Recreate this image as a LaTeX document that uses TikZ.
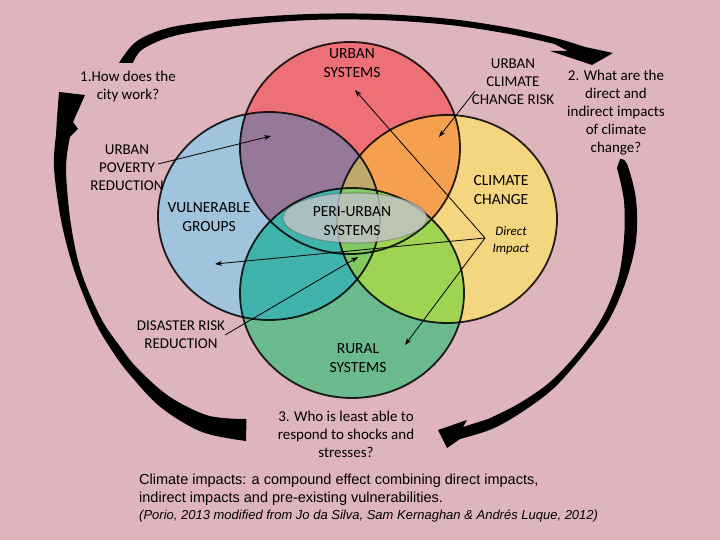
\documentclass[tikz,border=0pt]{standalone}
\usepackage{fontspec}
\setmainfont{Carlito}
\newfontfamily\arialf{Liberation Sans}
\usetikzlibrary{arrows.meta}
\definecolor{bgpink}{RGB}{223,181,189}
\definecolor{cred}{RGB}{236,112,118}
\definecolor{cblue}{RGB}{160,196,222}
\definecolor{cyellow}{RGB}{244,214,128}
\definecolor{cgreen}{RGB}{106,186,142}
\definecolor{cpurple}{RGB}{150,120,152}
\definecolor{corange}{RGB}{244,160,78}
\definecolor{cteal}{RGB}{64,180,172}
\definecolor{clime}{RGB}{158,212,82}
\definecolor{ckhaki}{RGB}{190,168,110}
\definecolor{cbgy}{RGB}{130,200,100}
\definecolor{cby}{RGB}{190,200,120}
\definecolor{crg}{RGB}{170,150,110}
\definecolor{cperi}{RGB}{194,194,198}
\tikzset{
  lbl/.style={align=center, inner sep=0pt, font=\fontsize{15}{18}\selectfont},
  biglbl/.style={align=center, inner sep=0pt, font=\fontsize{15.5}{19}\selectfont},
  thinarrow/.style={line width=0.8pt, -{Stealth[length=7pt,width=5pt]}},
  bigarrow/.style={fill=black},
  ring/.style={draw=black, line width=1.8pt, draw opacity=0.85}
}
\def\redC{(350,148) ellipse [x radius=110pt, y radius=106pt]}
\def\blueC{(269,216) ellipse [x radius=111pt, y radius=104pt]}
\def\yellowC{(447,219) ellipse [x radius=110pt, y radius=104pt]}
\def\greenC{(352,293) ellipse [x radius=112pt, y radius=105pt]}
\begin{document}
\begin{tikzpicture}[x=1pt,y=-1pt]
\fill[bgpink] (0,0) rectangle (720,540);
\useasboundingbox (0,0) rectangle (720,540);

% base circles
\fill[cred] \redC;
\fill[cblue] \blueC;
\fill[cyellow] \yellowC;
\fill[cgreen] \greenC;
% pairwise overlaps
\begin{scope}\clip \redC; \fill[cpurple] \blueC; \fill[corange] \yellowC; \fill[crg] \greenC; \end{scope}
\begin{scope}\clip \greenC; \fill[cteal] \blueC; \fill[clime] \yellowC; \end{scope}
\begin{scope}\clip \blueC; \fill[cby] \yellowC; \end{scope}
% triple overlaps
\begin{scope}\clip \redC; \clip \blueC; \fill[ckhaki] \yellowC; \end{scope}
\begin{scope}\clip \greenC; \clip \blueC; \fill[cbgy] \yellowC; \end{scope}
% outlines
\draw[ring] \redC;
\draw[ring] \blueC;
\draw[ring] \yellowC;
\draw[ring] \greenC;
% peri-urban ellipse
\fill[cperi, fill opacity=0.82] (355,218) ellipse [x radius=72pt, y radius=25pt];
\draw[black!70, line width=1.2pt, opacity=0.35] (355,218) ellipse [x radius=72pt, y radius=25pt];

% big curved arrows
% top: from question 1 to question 2
\fill[bigarrow] plot[smooth, tension=0.55] coordinates {(119,63) (137,41) (173.6,26.7) (239.6,18.5) (310,14) (380,14) (450.3,19) (510.7,28) (555.8,38.1) (585,47)}
  -- (613,53) -- (592,65) -- (550,51) -- (568,51)
  -- plot[smooth, tension=0.55] coordinates {(554.2,43.9) (509.3,34) (449.7,25) (380,20) (310,20) (240.4,25.5) (176.4,35.3) (143,49) (133,63)} -- cycle;
% right: from question 2 to question 3
\fill[bigarrow] plot[smooth, tension=0.55] coordinates {(620,159) (627,164) (636,199) (636,241) (626,281) (609,320) (584,354) (554,388) (522,412) (492,429) (460,439)}
  -- (447,448) -- (438,430) -- (467,420) -- (463,427)
  -- plot[smooth, tension=0.55] coordinates {(488,419) (518,404) (550,382) (580,350) (603,316) (618,279) (624,239) (624,201) (617,168)} -- cycle;
% left: from question 3 to question 1
\fill[bigarrow] plot[smooth, tension=0.55] coordinates {(246,441) (202,432) (161,407.5) (130.4,375.4) (113.2,352.5) (94.8,321.4) (75,272.8) (61.5,222.5) (54,168) (56,135)}
  -- (57,118) -- (59,92) -- (85,95) -- (73,122) -- (78,129)
  -- plot[smooth, tension=0.55] coordinates {(70,137) (66,168) (70.5,221.5) (81,271.2) (101.2,318.6) (120.8,347.5) (137.7,368.6) (169.3,396.5) (208.3,415.6) (246.5,419)} -- cycle;

% labels
\node[biglbl] (us) at (352,63) {URBAN\\SYSTEMS};
\node[lbl] (q1) at (128,87) {1.How does the\\city work?};
\node[lbl] (ucr) at (513,82) {URBAN\\CLIMATE\\CHANGE RISK};
\node[lbl] (q2) at (616,113) {2. What are the\\direct and\\indirect impacts\\of climate\\change?};
\node[lbl] (upr) at (127,168) {URBAN\\POVERTY\\REDUCTION};
\node[biglbl] (vg) at (209,217) {VULNERABLE\\GROUPS};
\node[biglbl] (peri) at (352,221) {PERI-URBAN\\SYSTEMS};
\node[biglbl] (cc) at (501,190) {CLIMATE\\CHANGE};
\node[align=center, inner sep=0pt, font=\fontsize{13}{17}\selectfont\itshape] (di) at (511,241) {Direct\\Impact};
\node[lbl] (drr) at (181,335) {DISASTER RISK\\REDUCTION};
\node[biglbl] (rural) at (358,358) {RURAL\\SYSTEMS};
\node[lbl] (q3) at (346,434) {3. Who is least able to\\respond to shocks and\\stresses?};
\node[align=left, inner sep=0pt, anchor=west, font=\arialf\fontsize{14.5}{18}\selectfont] (cap) at (139,490)
  {Climate impacts: a compound effect combining direct impacts,\\indirect impacts and pre-existing vulnerabilities.};
\node[inner sep=0pt, anchor=west, font=\arialf\itshape\fontsize{13}{15}\selectfont] (cite) at (139,516)
  {(Porio, 2013 modified from Jo da Silva, Sam Kernaghan \& Andrés Luque, 2012)};

% thin arrows
\coordinate (povS) at (158,164);
\coordinate (povE) at (271,136);
\coordinate (ucrS) at (475,91);
\coordinate (ucrE) at (439,137);
\coordinate (diP) at (485,238);
\coordinate (diU) at (355,90);
\coordinate (diV) at (215,264);
\coordinate (diR) at (405,345);
\coordinate (drrS) at (225,335);
\coordinate (drrE) at (358,257);
\draw[thinarrow] (povS) -- (povE);
\draw[thinarrow] (ucrS) -- (ucrE);
\draw[thinarrow] (diP) -- (diU);
\draw[thinarrow] (diP) -- (diV);
\draw[thinarrow] (diP) -- (diR);
\draw[thinarrow] (drrS) -- (drrE);
\end{tikzpicture}
\end{document}
